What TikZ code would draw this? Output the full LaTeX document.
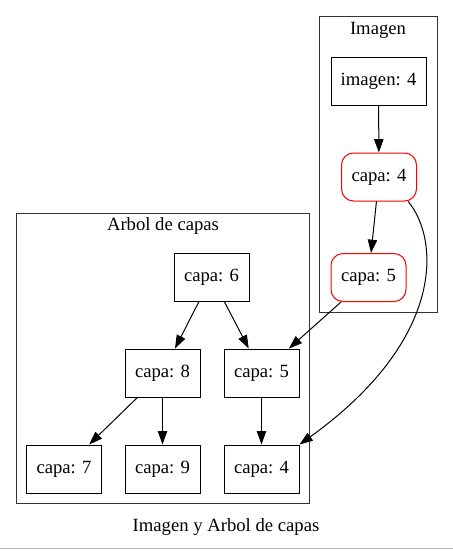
\documentclass[tikz,border=0pt]{standalone}
\usepackage{fontspec}
\setmainfont{Liberation Serif}
\usetikzlibrary{arrows.meta}

\begin{document}
\begin{tikzpicture}[x=0.75pt,y=-0.75pt,line width=0.75pt,
    caja/.style={draw,minimum width=56.25pt,minimum height=36pt,inner sep=0pt,font=\fontsize{14}{16}\selectfont},
    capa/.style={caja,draw=red,rounded corners=9pt},
    flecha/.style={-{Triangle[length=10pt,width=7pt]}}]
            \useasboundingbox (0,0) rectangle (453,551);
            % grupos
            \draw[black!80] (319,16) rectangle (437,312);
            \draw[black!80] (16,213) rectangle (309,503);
            \node[font=\fontsize{14}{16}\selectfont] (imagenlbl) at (378,30) {Imagen};
            \node[font=\fontsize{14}{16}\selectfont] (arbollbl) at (163,226) {Arbol de capas};
            % nodos
            \node[caja,minimum width=71.25pt] (img) at (378.5,81) {imagen: 4};
            \node[capa] (c4) at (379,177) {capa: 4};
            \node[capa] (c5) at (368.5,277.5) {capa: 5};
            \node[caja] (t6) at (211.5,277) {capa: 6};
            \node[caja] (t8) at (162.5,373) {capa: 8};
            \node[caja] (t5) at (261.5,373) {capa: 5};
            \node[caja] (t7) at (64,469) {capa: 7};
            \node[caja] (t9) at (162.5,469) {capa: 9};
            \node[caja] (t4) at (261.5,469) {capa: 4};
            % aristas
            \draw[flecha] (img) -- (c4);
            \draw[flecha] (c4) -- (c5);
            \draw[flecha] (t6) -- (t8);
            \draw[flecha] (t6) -- (t5);
            \draw[flecha] (t8) -- (t7);
            \draw[flecha] (t8) -- (t9);
            \draw[flecha] (t5) -- (t4);
            \draw[flecha] (c5) -- (t5);
            \draw[flecha] (c4.320) .. controls (440,240) and (445,340) .. (t4.north east);
            \node[font=\fontsize{14}{16}\selectfont] (titulo) at (226,527) {Imagen y Arbol de capas};
            \draw[gray!60] (0,548) -- (453,548);
        \end{tikzpicture}
\end{document}
